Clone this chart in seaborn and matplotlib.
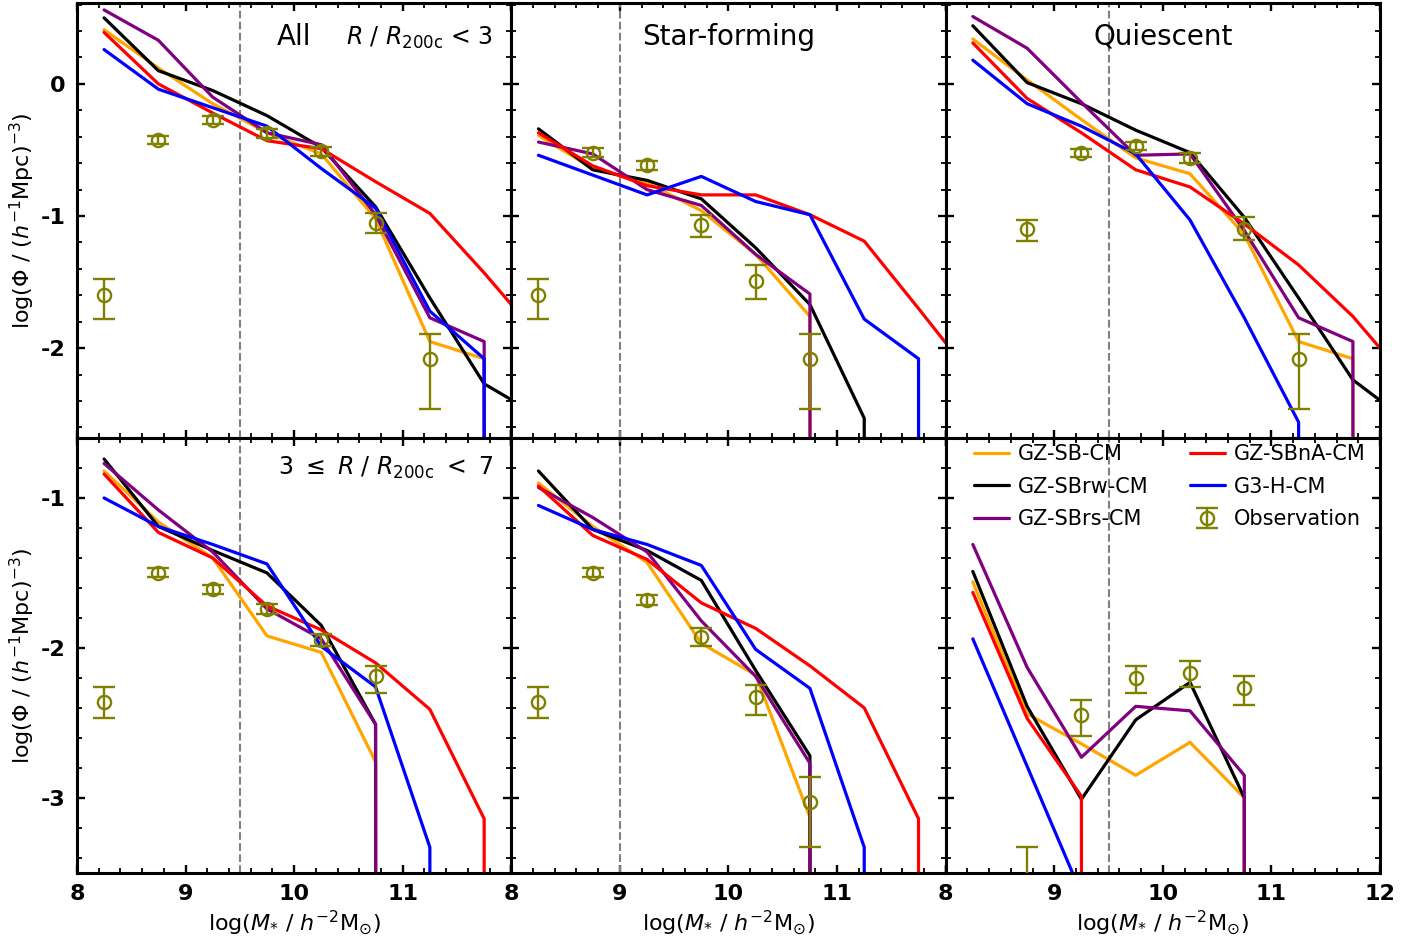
import numpy as np
import pandas as pd
import matplotlib
matplotlib.use("Agg")
import matplotlib.pyplot as plt
from matplotlib.ticker import MultipleLocator, FixedLocator
from matplotlib.lines import Line2D
import seaborn as sns

# Stellar-mass bin centres, log(M* / h^-2 Msun)
LOG_MSTAR = [8.25, 8.75, 9.25, 9.75, 10.25, 10.75, 11.25, 11.75, 12.25]
# Empty bins are given a floor value so the curve falls straight off the axes
EMPTY = -1000.0

MODELS = ["GZ-SB-CM", "GZ-SBrw-CM", "GZ-SBrs-CM", "GZ-SBnA-CM", "G3-H-CM"]
MODEL_COLORS = {"GZ-SB-CM": "orange", "GZ-SBrw-CM": "black", "GZ-SBrs-CM": "purple",
                "GZ-SBnA-CM": "red", "G3-H-CM": "blue"}
OBS_COLOR = "olive"

# ---- R / R200c < 3 -------------------------------------------------------
INNER_ALL = {
    "GZ-SB-CM":   [0.41, 0.12, -0.15, -0.37, -0.53, -1.02, -1.95, -2.08, EMPTY],
    "GZ-SBrw-CM": [0.50, 0.10, -0.05, -0.24, -0.48, -0.93, -1.62, -2.27, -2.51],
    "GZ-SBrs-CM": [0.56, 0.33, -0.10, -0.37, -0.46, -0.99, -1.77, -1.95, EMPTY],
    "GZ-SBnA-CM": [0.39, 0.00, -0.22, -0.43, -0.49, -0.74, -0.98, -1.43, -1.91],
    "G3-H-CM":    [0.26, -0.04, -0.18, -0.32, -0.64, -0.94, -1.72, -2.08, EMPTY],
}
INNER_SF = {
    "GZ-SB-CM":   [-0.39, -0.64, -0.75, -0.96, -1.29, -1.76, EMPTY],
    "GZ-SBrw-CM": [-0.34, -0.65, -0.73, -0.87, -1.24, -1.67, -2.53, EMPTY],
    "GZ-SBrs-CM": [-0.44, -0.53, -0.80, -0.92, -1.29, -1.59, EMPTY],
    "GZ-SBnA-CM": [-0.37, -0.62, -0.77, -0.84, -0.84, -0.99, -1.19, -1.70, -2.22],
    "G3-H-CM":    [-0.54, -0.69, -0.84, -0.70, -0.89, -0.99, -1.78, -2.08, EMPTY],
}
INNER_Q = {
    "GZ-SB-CM":   [0.34, 0.03, -0.27, -0.56, -0.68, -1.14, -1.95, -2.08, EMPTY],
    "GZ-SBrw-CM": [0.44, 0.01, -0.15, -0.35, -0.52, -1.01, -1.62, -2.24, -2.55],
    "GZ-SBrs-CM": [0.51, 0.27, -0.14, -0.54, -0.53, -1.11, -1.77, -1.95, EMPTY],
    "GZ-SBnA-CM": [0.31, -0.11, -0.37, -0.65, -0.78, -1.06, -1.37, -1.76, -2.24],
    "G3-H-CM":    [0.18, -0.15, -0.32, -0.53, -1.03, -1.77, -2.56, EMPTY],
}

# ---- 3 <= R / R200c < 7 --------------------------------------------------
OUTER_ALL = {
    "GZ-SB-CM":   [-0.82, -1.16, -1.40, -1.92, -2.03, -2.76, EMPTY],
    "GZ-SBrw-CM": [-0.74, -1.19, -1.35, -1.50, -1.85, -2.51, EMPTY],
    "GZ-SBrs-CM": [-0.77, -1.08, -1.36, -1.74, -1.94, -2.51, EMPTY],
    "GZ-SBnA-CM": [-0.84, -1.23, -1.40, -1.72, -1.88, -2.10, -2.41, -3.14, EMPTY],
    "G3-H-CM":    [-1.00, -1.19, -1.31, -1.44, -1.99, -2.26, -3.33, EMPTY],
}
OUTER_SF = {
    "GZ-SB-CM":   [-0.90, -1.19, -1.43, -1.97, -2.18, -3.13, EMPTY],
    "GZ-SBrw-CM": [-0.82, -1.21, -1.35, -1.55, -2.15, -2.72, EMPTY],
    "GZ-SBrs-CM": [-0.93, -1.13, -1.36, -1.82, -2.19, -2.77, EMPTY],
    "GZ-SBnA-CM": [-0.92, -1.25, -1.41, -1.70, -1.87, -2.12, -2.40, -3.14, EMPTY],
    "G3-H-CM":    [-1.05, -1.21, -1.31, -1.45, -2.01, -2.27, -3.33, EMPTY],
}
OUTER_Q = {
    "GZ-SB-CM":   [-1.56, -2.44, -2.64, -2.85, -2.63, -3.00, EMPTY],
    "GZ-SBrw-CM": [-1.49, -2.39, -3.01, -2.48, -2.23, -3.00, EMPTY],
    "GZ-SBrs-CM": [-1.31, -2.13, -2.73, -2.39, -2.42, -2.85, EMPTY],
    "GZ-SBnA-CM": [-1.63, -2.47, -2.99, EMPTY],
    "G3-H-CM":    [-1.94, -2.79, -3.64, EMPTY],
}

# ---- observed mass functions: value with lower / upper error-bar ends -----
OBS_INNER_ALL = dict(x=[8.25, 8.75, 9.25, 9.75, 10.25, 10.75, 11.25],
                     y=[-1.60, -0.425, -0.27, -0.375, -0.51, -1.05, -2.08],
                     lo=[-1.78, -0.455, -0.30, -0.41, -0.545, -1.13, -2.46],
                     hi=[-1.48, -0.395, -0.24, -0.34, -0.475, -0.975, -1.89])
OBS_INNER_SF = dict(x=[8.25, 8.75, 9.25, 9.75, 10.25, 10.75],
                    y=[-1.60, -0.52, -0.615, -1.07, -1.49, -2.08],
                    lo=[-1.78, -0.555, -0.65, -1.16, -1.63, -2.46],
                    hi=[-1.48, -0.485, -0.58, -0.99, -1.37, -1.89])
OBS_INNER_Q = dict(x=[8.75, 9.25, 9.75, 10.25, 10.75, 11.25],
                   y=[-1.10, -0.52, -0.47, -0.56, -1.10, -2.08],
                   lo=[-1.19, -0.55, -0.50, -0.595, -1.18, -2.46],
                   hi=[-1.03, -0.49, -0.44, -0.525, -1.01, -1.89])
OBS_OUTER_ALL = dict(x=[8.25, 8.75, 9.25, 9.75, 10.25, 10.75],
                     y=[-2.36, -1.50, -1.61, -1.74, -1.95, -2.19],
                     lo=[-2.47, -1.53, -1.64, -1.775, -1.99, -2.30],
                     hi=[-2.26, -1.47, -1.58, -1.705, -1.91, -2.12])
OBS_OUTER_SF = dict(x=[8.25, 8.75, 9.25, 9.75, 10.25, 10.75],
                    y=[-2.36, -1.50, -1.68, -1.93, -2.33, -3.03],
                    lo=[-2.47, -1.53, -1.715, -1.99, -2.45, -3.33],
                    hi=[-2.26, -1.47, -1.645, -1.87, -2.25, -2.86])
OBS_OUTER_Q = dict(x=[8.75, 9.25, 9.75, 10.25, 10.75],
                   y=[-3.70, -2.45, -2.20, -2.17, -2.27],
                   lo=[-4.20, -2.59, -2.30, -2.26, -2.38],
                   hi=[-3.33, -2.35, -2.12, -2.09, -2.19])

CURVES = [INNER_ALL, INNER_SF, INNER_Q, OUTER_ALL, OUTER_SF, OUTER_Q]
OBSERVED = [OBS_INNER_ALL, OBS_INNER_SF, OBS_INNER_Q, OBS_OUTER_ALL, OBS_OUTER_SF, OBS_OUTER_Q]
MASS_LIMIT = [9.5, 9.0, 9.5, 9.5, 9.0, 9.5]
TITLES = ["All", "Star-forming", "Quiescent"]

X_TICKS = [8, 9, 10, 11, 12]
Y_TICKS = [[-2, -1, 0], [-3, -2, -1]]
Y_LIMITS = [(-2.68, 0.61), (-3.5, -0.6)]

sns.set_theme(style="ticks")
plt.rcParams.update({
    "font.family": ["DejaVu Sans"],
    "mathtext.fontset": "dejavusans",
    "axes.unicode_minus": False,
    "axes.edgecolor": "black",
    "axes.linewidth": 2.2,
    "axes.labelcolor": "black",
    "text.color": "black",
    "xtick.color": "black",
    "ytick.color": "black",
    "axes.facecolor": "white",
})

fig, axes = plt.subplots(2, 3, figsize=(14.22, 9.44), dpi=100)
fig.subplots_adjust(left=0.0541, right=0.9705, top=0.9965, bottom=0.0755,
                    wspace=0, hspace=0)

obs_handle = None
for i, ax in enumerate(axes.flat):
    row, col = divmod(i, 3)
    curves = CURVES[i]
    records = [(m, x, y) for m in MODELS for x, y in zip(LOG_MSTAR, curves[m])]
    df = pd.DataFrame(records, columns=["model", "logM", "logPhi"])

    ax.axvline(MASS_LIMIT[i], color="gray", ls="--", lw=1.5, zorder=1)
    sns.lineplot(data=df, x="logM", y="logPhi", hue="model", hue_order=MODELS,
                 palette=MODEL_COLORS, estimator=None, sort=False, lw=2.3,
                 legend=False, ax=ax, zorder=2)

    obs = OBSERVED[i]
    y = np.array(obs["y"])
    yerr = [y - np.array(obs["lo"]), np.array(obs["hi"]) - y]
    obs_handle = ax.errorbar(obs["x"], y, yerr=yerr, fmt="o", color=OBS_COLOR,
                             mfc="none", mec=OBS_COLOR, ms=9.5, mew=1.7,
                             elinewidth=1.7, capsize=8, capthick=1.7, zorder=3)

    ax.set_xlim(8, 12)
    ax.set_ylim(*Y_LIMITS[row])
    ax.set_xlabel("")
    ax.set_ylabel("")

    ax.xaxis.set_major_locator(FixedLocator(X_TICKS))
    ax.xaxis.set_minor_locator(MultipleLocator(0.2))
    ax.yaxis.set_major_locator(FixedLocator(Y_TICKS[row]))
    ax.yaxis.set_minor_locator(MultipleLocator(0.2))
    ax.tick_params(which="both", direction="in", top=True, right=True,
                   bottom=True, left=True)
    ax.tick_params(which="major", length=6, width=1.7, labelsize=16, pad=8)
    ax.tick_params(which="minor", length=3.5, width=1.3)

    if row == 1:
        xlabels = [str(t) for t in X_TICKS]
        if col < 2:
            xlabels[-1] = ""
        ax.set_xticks(X_TICKS, labels=xlabels, fontweight="bold")
        ax.set_xlabel(r"log($M_{*}$ / $h^{-2}$M$_{\odot}$)", fontsize=16, labelpad=3)
    else:
        ax.tick_params(labelbottom=False)

    if col == 0:
        ax.set_yticks(Y_TICKS[row], labels=[str(t) for t in Y_TICKS[row]],
                      fontweight="bold")
        ax.set_ylabel(r"log($\Phi$ / ($h^{-1}$Mpc)$^{-3}$)", fontsize=16, labelpad=3)
    else:
        ax.tick_params(labelleft=False)

    if row == 0:
        ax.text(0.5, 0.905, TITLES[col], ha="center", va="baseline", fontsize=20,
                transform=ax.transAxes)

axes[0, 0].text(0.958, 0.905, r"$R$ / $R_{\rm 200c}$ < 3", ha="right",
                va="baseline", fontsize=17, transform=axes[0, 0].transAxes)
axes[1, 0].text(0.958, 0.915, r"3 $\leq$ $R$ / $R_{\rm 200c}$ $<$ 7", ha="right",
                va="baseline", fontsize=17, transform=axes[1, 0].transAxes)

handles = [Line2D([], [], color=MODEL_COLORS[m], lw=2.3) for m in MODELS] + [obs_handle]
labels = MODELS + ["Observation"]
axes[1, 2].legend(handles, labels, loc="upper left", bbox_to_anchor=(0.05, 1.0),
                  ncol=2, frameon=False, fontsize=15, handlelength=1.7,
                  handletextpad=0.4, columnspacing=2.0, labelspacing=0.6,
                  borderpad=0.3, borderaxespad=0)

fig.savefig("out.png", dpi=100)
